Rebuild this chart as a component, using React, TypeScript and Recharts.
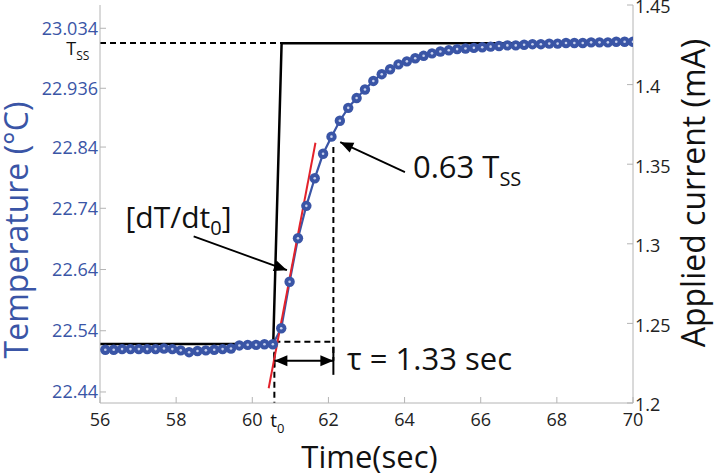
import React from 'react';
import {
  ComposedChart,
  Line,
  XAxis,
  YAxis,
  ReferenceLine,
  ReferenceDot,
} from 'recharts';

const BLUE = '#3a55a6';
const FRAME = '#b4b4b4';
const FONT = '"Open Sans", "DejaVu Sans", sans-serif';

// measured temperature samples
const timeSec = [
  56.14, 56.36, 56.58, 56.8, 57.02, 57.24, 57.46, 57.68, 57.9, 58.12, 58.34,
  58.56, 58.78, 59.0, 59.22, 59.44, 59.66, 59.88, 60.1, 60.32, 60.54, 60.76,
  60.98, 61.2, 61.42, 61.64, 61.86, 62.08, 62.3, 62.52, 62.74, 62.96, 63.18,
  63.4, 63.62, 63.84, 64.06, 64.28, 64.5, 64.72, 64.94, 65.16, 65.38, 65.6,
  65.82, 66.04, 66.26, 66.48, 66.7, 66.92, 67.14, 67.36, 67.58, 67.8, 68.02,
  68.24, 68.46, 68.68, 68.9, 69.12, 69.34, 69.56, 69.78, 70.0,
];
const temperature = [
  22.509, 22.509, 22.51, 22.51, 22.51, 22.51, 22.51, 22.511, 22.51, 22.508,
  22.505, 22.507, 22.508, 22.509, 22.51, 22.511, 22.516, 22.517, 22.517,
  22.518, 22.518, 22.544, 22.62, 22.691, 22.744, 22.789, 22.829, 22.857,
  22.883, 22.904, 22.92, 22.934, 22.948, 22.959, 22.967, 22.975, 22.98,
  22.985, 22.989, 22.993, 22.996, 22.998, 23.0, 23.001, 23.002, 23.003,
  23.004, 23.005, 23.006, 23.006, 23.007, 23.008, 23.008, 23.009, 23.009,
  23.01, 23.01, 23.01, 23.011, 23.011, 23.011, 23.012, 23.012, 23.012,
];

// applied current step
const currentTime = [56, 60.55, 60.77, 70];
const currentMA = [1.237, 1.237, 1.426, 1.426];

// tangent at t0
const tangentTime = [60.43, 61.66];
const tangentTemp = [22.446, 22.847];

const timeTicks = [56, 58, 60, 62, 64, 66, 68, 70];
const tempTicks = [22.44, 22.54, 22.64, 22.74, 22.84, 22.936, 23.034];
const currentTicks = [1.2, 1.25, 1.3, 1.35, 1.4, 1.45];

// annotation levels
const tSteady = 23.0098;
const tStart = 60.58;
const tTau = 62.13;
const tempBase = 22.522;
const temp63 = 22.84;
const tauLevel = 22.491;

const tempData = timeSec.map((t, i) => ({ t, T: temperature[i] }));
const currentData = currentTime.map((t, i) => ({ t, I: currentMA[i] }));
const tangentData = tangentTime.map((t, i) => ({ t, T: tangentTemp[i] }));

const dashedSegments = [
  [{ x: 56, y: tSteady }, { x: 60.77, y: tSteady }],
  [{ x: tTau, y: temp63 }, { x: tTau, y: tauLevel }],
  [{ x: tStart, y: tempBase }, { x: tTau, y: tempBase }],
  [{ x: tStart, y: tempBase }, { x: tStart, y: 22.422 }],
];

const barSegments = [
  [{ x: tTau, y: 22.514 }, { x: tTau, y: 22.468 }],
  [{ x: tStart, y: 22.504 }, { x: tStart, y: 22.481 }],
];

const head = (x1: number, y1: number, x2: number, y2: number) => {
  const a = Math.atan2(y2 - y1, x2 - x1);
  const len = 13;
  const w = 5.5;
  const bx = x2 - len * Math.cos(a);
  const by = y2 - len * Math.sin(a);
  const px = -Math.sin(a) * w;
  const py = Math.cos(a) * w;
  return `${x2},${y2} ${bx + px},${by + py} ${bx - px},${by - py}`;
};

const arrowShape = (both: boolean) => (p: any) => {
  const { x1, y1, x2, y2 } = p;
  return (
    <g>
      <line x1={x1} y1={y1} x2={x2} y2={y2} stroke="#000" strokeWidth={1.8} />
      <polygon points={head(x1, y1, x2, y2)} fill="#000" />
      {both && <polygon points={head(x2, y2, x1, y1)} fill="#000" />}
    </g>
  );
};

const arrows = [
  { seg: [{ x: 58.46, y: 22.694 }, { x: 60.91, y: 22.639 }], both: false },
  { seg: [{ x: 64.01, y: 22.799 }, { x: 62.31, y: 22.848 }], both: false },
  { seg: [{ x: tStart, y: tauLevel }, { x: tTau, y: tauLevel }], both: true },
];

const LeftTick = (props: any) => {
  const { x, y, payload } = props;
  return (
    <g>
      <line x1={x + 2} x2={x + 8} y1={y} y2={y} stroke={FRAME} />
      <text x={x} y={y} dy="0.36em" textAnchor="end" fill={BLUE} fontSize={18} fontFamily={FONT}>
        {payload.value}
      </text>
    </g>
  );
};

const RightTick = (props: any) => {
  const { x, y, payload } = props;
  return (
    <g>
      <line x1={x - 2} x2={x - 8} y1={y} y2={y} stroke={FRAME} />
      <text x={x} y={y + 2} dy="0.36em" textAnchor="start" fill="#222" fontSize={18} fontFamily={FONT}>
        {payload.value}
      </text>
    </g>
  );
};

const BottomTick = (props: any) => {
  const { x, y, payload } = props;
  return (
    <g>
      <line x1={x} x2={x} y1={y - 10} y2={y - 16} stroke={FRAME} />
      <text x={x} y={y} dy="0.71em" textAnchor="middle" fill="#222" fontSize={18} fontFamily={FONT}>
        {payload.value}
      </text>
    </g>
  );
};

const TopTick = (props: any) => {
  const { x, y } = props;
  return <line x1={x} x2={x} y1={y} y2={y + 6} stroke={FRAME} />;
};

const BlueDot = (p: any) => (
  <g key={`d${p.index}`}>
    <circle cx={p.cx} cy={p.cy} r={5.2} fill={BLUE} />
    <circle cx={p.cx} cy={p.cy} r={1.3} fill="#c9d2ee" />
  </g>
);

const textAt = (content: React.ReactNode, size: number, anchor: string = 'start') => (p: any) => (
  <text x={p.cx} y={p.cy} fontSize={size} fontFamily={FONT} fill="#111" textAnchor={anchor}>
    {content}
  </text>
);

const notes = [
  {
    x: 56.67,
    y: 22.708,
    shape: textAt(
      <>
        [dT/dt<tspan fontSize={20} dy={7}>0</tspan>
        <tspan dy={-7}>]</tspan>
      </>,
      30,
    ),
  },
  {
    x: 64.22,
    y: 22.789,
    shape: textAt(
      <>
        0.63 T<tspan fontSize={20} dy={8}>SS</tspan>
      </>,
      31,
    ),
  },
  { x: 62.49, y: 22.476, shape: textAt('τ = 1.33 sec', 31) },
  {
    x: 55.72,
    y: 22.99,
    shape: textAt(
      <>
        T<tspan fontSize={12} dy={5}>SS</tspan>
      </>,
      18,
      'end',
    ),
  },
  {
    x: 60.47,
    y: 22.383,
    shape: textAt(
      <>
        t<tspan fontSize={13} dy={6}>0</tspan>
      </>,
      19,
    ),
  },
];

const leftTitle = (p: any) => {
  const vb = p.viewBox || { x: 0, y: 5, width: 100, height: 398 };
  const x = vb.x + 28;
  const y = 230;
  return (
    <text x={x} y={y} transform={`rotate(-90, ${x}, ${y})`} textAnchor="middle" fill={BLUE} fontSize={32} fontFamily={FONT}>
      Temperature (°C)
    </text>
  );
};

const rightTitle = (p: any) => {
  const vb = p.viewBox || { x: 633, y: 5, width: 81, height: 398 };
  const x = vb.x + 72;
  const y = 193;
  return (
    <text x={x} y={y} transform={`rotate(-90, ${x}, ${y})`} textAnchor="middle" fill="#111" fontSize={32} fontFamily={FONT}>
      Applied current (mA)
    </text>
  );
};

const bottomTitle = (p: any) => {
  const vb = p.viewBox || { x: 100, y: 403, width: 533, height: 72 };
  return (
    <text x={vb.x + vb.width / 2 + 3} y={vb.y + vb.height - 7} textAnchor="middle" fill="#111" fontSize={31} fontFamily={FONT}>
      Time(sec)
    </text>
  );
};

export default function App() {
  return (
    <div style={{ position: 'absolute', left: 0, top: 0, width: 714, height: 475, background: '#fff' }}>
      <ComposedChart width={714} height={475} margin={{ top: 5, right: 0, bottom: 0, left: 0 }}>
        <XAxis
          dataKey="t"
          type="number"
          domain={[56, 70]}
          ticks={timeTicks}
          interval={0}
          allowDataOverflow
          height={72}
          tickSize={0}
          tickMargin={10}
          tick={<BottomTick />}
          axisLine={{ stroke: FRAME }}
          label={{ content: bottomTitle }}
        />
        <XAxis
          xAxisId="top"
          orientation="top"
          type="number"
          domain={[56, 70]}
          ticks={timeTicks}
          interval={0}
          height={0}
          tickSize={0}
          tickMargin={0}
          tick={<TopTick />}
          axisLine={{ stroke: FRAME }}
        />
        <YAxis
          yAxisId="T"
          type="number"
          domain={[22.422, 23.072]}
          ticks={tempTicks}
          interval={0}
          allowDataOverflow
          width={100}
          tickSize={0}
          tickMargin={2}
          tick={<LeftTick />}
          axisLine={{ stroke: FRAME }}
          label={{ content: leftTitle }}
        />
        <YAxis
          yAxisId="I"
          orientation="right"
          type="number"
          domain={[1.2, 1.45]}
          ticks={currentTicks}
          interval={0}
          allowDataOverflow
          width={81}
          tickSize={0}
          tickMargin={2}
          tick={<RightTick />}
          axisLine={{ stroke: FRAME }}
          label={{ content: rightTitle }}
        />

        {dashedSegments.map((seg, i) => (
          <ReferenceLine
            key={`dash${i}`}
            yAxisId="T"
            segment={seg}
            ifOverflow="visible"
            stroke="#000"
            strokeWidth={2}
            strokeDasharray="6 4"
          />
        ))}
        {barSegments.map((seg, i) => (
          <ReferenceLine key={`bar${i}`} yAxisId="T" segment={seg} ifOverflow="visible" stroke="#000" strokeWidth={2} />
        ))}

        <Line
          yAxisId="T"
          data={tempData}
          dataKey="T"
          type="linear"
          stroke={BLUE}
          strokeWidth={2.2}
          dot={BlueDot}
          activeDot={false}
          isAnimationActive={false}
        />
        <Line
          yAxisId="I"
          data={currentData}
          dataKey="I"
          type="linear"
          stroke="#000"
          strokeWidth={2.5}
          dot={false}
          activeDot={false}
          isAnimationActive={false}
        />
        <Line
          yAxisId="T"
          data={tangentData}
          dataKey="T"
          type="linear"
          stroke="#e3222b"
          strokeWidth={2}
          dot={false}
          activeDot={false}
          isAnimationActive={false}
        />

        {arrows.map((a, i) => (
          <ReferenceLine key={`arr${i}`} yAxisId="T" segment={a.seg} ifOverflow="visible" shape={arrowShape(a.both)} />
        ))}
        {notes.map((n, i) => (
          <ReferenceDot key={`note${i}`} yAxisId="T" x={n.x} y={n.y} r={0} ifOverflow="visible" shape={n.shape} />
        ))}
      </ComposedChart>
    </div>
  );
}
